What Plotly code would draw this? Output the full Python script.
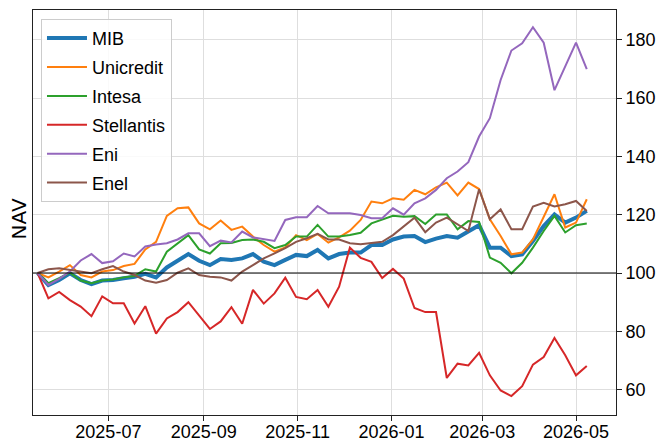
import pandas as pd
import plotly.graph_objects as go

dates = pd.date_range("2025-05-16", periods=52, freq="7D")

mib = [100, 95.9, 97.6, 99.9, 97.6, 96.2, 97.4, 97.6, 98.2, 98.7,
       99.7, 98.5, 101.9, 104.2, 106.5, 104.2, 102.7, 104.8, 104.5, 105,
       106.5, 103.9, 102.7, 104.5, 106.2, 105.8, 107.9, 105, 106.5, 107,
       107, 109.6, 109.6, 111.5, 112.5, 112.7, 110.6, 111.8, 112.7, 112.1,
       114.4, 116.4, 108.7, 108.7, 105.8, 106.4, 111, 116.1, 120.1, 117.3,
       119, 121.3]
unicredit = [100, 98.5, 100.5, 102.7, 99.3, 98.5, 100.5, 101, 102.4, 103.1,
             108.1, 110.7, 119.6, 122.2, 122.5, 117, 115, 118, 114.8, 115.9,
             112.5, 109.6, 107.3, 108.8, 113, 111.3, 113.4, 110.4, 112.2, 114.5,
             118.2, 124.5, 123.9, 125.6, 125.1, 128.5, 127, 129.4, 131, 126.6,
             131, 128.8, 118.4, 112.7, 106.4, 107, 111.5, 119, 127, 115.6,
             117.3, 125.3]
intesa = [100, 96.5, 98.2, 100.1, 97.4, 96.5, 97.4, 97.8, 98.5, 99,
          101.3, 100.5, 107.3, 110.2, 113, 108.1, 106.7, 110.2, 110.3, 111.3,
          111.5, 110.7, 108.5, 109.6, 112.5, 112.5, 116.5, 112.5, 112.5, 113,
          113.8, 117, 118.2, 119.6, 119.3, 119.5, 116.8, 120.1, 120.1, 115,
          117.8, 117.5, 105.3, 103.5, 99.9, 103.5, 108.7, 114.4, 119.6, 113.9,
          116.4, 117]
stellantis = [100, 91.3, 93.5, 90.7, 88.5, 85.2, 92, 89.6, 89.6, 82.7,
              88.6, 79.2, 84.4, 86.6, 90, 85.5, 80.8, 83.4, 88.3, 82.6,
              94.2, 89.5, 93, 98.4, 91.8, 91, 94.2, 88.4, 95.3, 108.7,
              105.2, 103.8, 98.3, 101.4, 98.1, 88, 86.6, 86.6, 64, 68.9,
              68.3, 72.6, 64.9, 59.7, 57.8, 61.2, 68.6, 71.2, 77.7, 71.8,
              64.9, 68.1]
eni = [100, 95.9, 98, 100.5, 104.3, 106.5, 103.4, 104, 106.7, 105.7,
       109.1, 109.8, 110.2, 111.5, 113.6, 113.6, 109.2, 111.1, 110.5, 114.2,
       112.2, 111.7, 111, 118.2, 119.1, 119.1, 123, 120.5, 120.5, 120.5,
       119.9, 118.8, 118.8, 122.2, 120, 123.9, 125.6, 128.5, 132.5, 134.8,
       138, 146.8, 153.1, 166.2, 176.3, 178.8, 184.3, 179, 162.7, 170.7,
       179, 169.9]
enel = [100, 101.3, 101.6, 101, 100.5, 99.9, 101.3, 102.4, 100.5, 99.3,
        97.4, 96.7, 97.6, 100.1, 101.6, 99.3, 98.7, 98.5, 97.4, 100.5,
        102.7, 105, 106.7, 108.5, 110.7, 111.9, 113.4, 111.5, 111.5, 110.2,
        109.9, 110.2, 110.7, 113, 115.9, 119, 114, 117.3, 119, 116.7,
        114.4, 128.7, 118.4, 121.8, 115, 115, 122.8, 124.1, 122.8, 123.6,
        124.7, 121.3]

names = ["MIB", "Unicredit", "Intesa", "Stellantis", "Eni", "Enel"]
series = [mib, unicredit, intesa, stellantis, eni, enel]
colors = ["#1f77b4", "#ff7f0e", "#2ca02c", "#d62728", "#9467bd", "#8c564b"]
widths = [4, 2, 2, 2, 2, 2]

x_ticks = ["2025-07-01", "2025-09-01", "2025-11-01", "2026-01-01", "2026-03-01", "2026-05-01"]
x_tick_labels = ["2025-07", "2025-09", "2025-11", "2026-01", "2026-03", "2026-05"]
y_ticks = [60, 80, 100, 120, 140, 160, 180]

FONT = "Liberation Sans, Arial, sans-serif"

fig = go.Figure()
for name, vals, col, w in zip(names, series, colors, widths):
    fig.add_trace(go.Scatter(x=dates, y=vals, mode="lines", name=name,
                             legendgroup=name,
                             line=dict(color=col, width=w)))

fig.add_hline(y=100, line=dict(color="black", width=1), layer="above")

fig.update_layout(
    width=664, height=436,
    margin=dict(l=25, r=56, t=2, b=29),
    paper_bgcolor="white", plot_bgcolor="white",
    font=dict(family=FONT, size=18, color="black"),
    showlegend=True,
    legend=dict(x=0.0137, y=0.978, xanchor="left", yanchor="top",
                bgcolor="rgba(255,255,255,0.85)", bordercolor="#cccccc",
                borderwidth=1, itemwidth=40, tracegroupgap=2.5,
                traceorder="grouped",
                font=dict(family=FONT, size=18, color="black")),
    xaxis=dict(type="date", range=["2025-05-13", "2026-05-27"],
               tickvals=x_ticks, ticktext=x_tick_labels, automargin=False,
               ticklabelstandoff=-5,
               showgrid=True, gridcolor="#dedede", gridwidth=1,
               showline=True, linecolor="#222222", linewidth=1, mirror=True,
               ticks="outside", ticklen=5, tickcolor="#222222",
               zeroline=False),
    yaxis=dict(range=[51.3, 190.2], side="right", tickvals=y_ticks, automargin=False,
               showgrid=True, gridcolor="#dedede", gridwidth=1,
               showline=True, linecolor="#222222", linewidth=1, mirror=True,
               ticks="outside", ticklen=5, tickcolor="#222222",
               zeroline=False),
    annotations=[dict(text="NAV", x=-0.0232, y=0.484, xref="paper", yref="paper",
                      xanchor="center", yanchor="middle",
                      textangle=-90, showarrow=False,
                      font=dict(family="DejaVu Sans", size=20, color="black"))],
)

fig.write_html("out.html")
